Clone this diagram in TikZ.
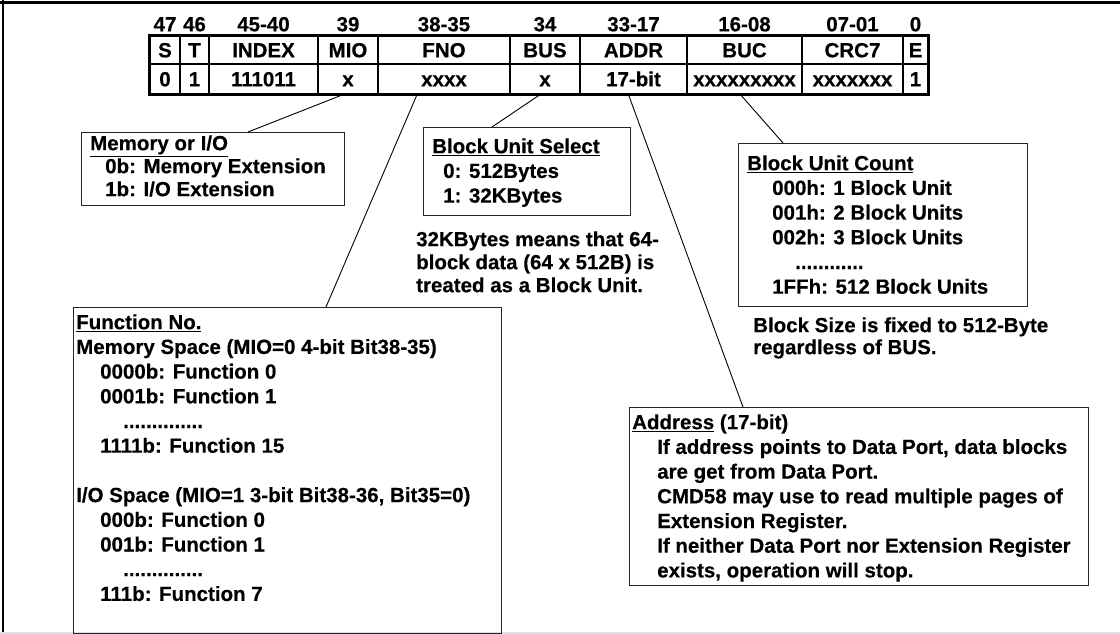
\documentclass[tikz,border=0pt]{standalone}
\usepackage{fontspec}
\setmainfont{Liberation Sans}[BoldFeatures={FakeBold=0.4}]
\usetikzlibrary{calc}
\newcommand\capstrut{\rule{0pt}{15pt}}
\tikzset{
  txt/.style={font=\fontsize{20.5}{24.7}\selectfont\bfseries, inner sep=0pt},
  hdr/.style={txt, text height=14.6pt, text depth=0pt},
  cell/.style={txt, draw, line width=1.3pt, text height=14.6pt, text depth=0pt},
  box/.style={draw=black!85, line width=1.2pt, inner sep=0pt, anchor=north west},
  para/.style={txt, anchor=north west, align=left},
  link/.style={line width=0.9pt},
}
\begin{document}
\begin{tikzpicture}[x=1pt,y=-1pt]
\useasboundingbox (0,0) rectangle (1120,634);
% frame
\draw[line width=3pt] (0,2.5) -- (1120,2.5);
\draw[line width=2pt] (2.5,0) -- (2.5,634);
\draw[black!12, line width=2pt] (0,633) -- (1120,633);
% table
\foreach \nm/\cx/\cw/\hn/\fl/\vl in {
  S/165/30/47/S/0,
  T/194.5/29/46/T/1,
  INDEX/263.5/109/45-40/INDEX/111011,
  MIO/348/60/39/MIO/x,
  FNO/444/132/38-35/FNO/xxxx,
  BUS/545/70/34/BUS/x,
  ADDR/633.5/107/33-17/ADDR/17-bit,
  BUC/744.5/115/16-08/BUC/xxxxxxxxx,
  CRC/852.5/101/07-01/CRC7/xxxxxxx,
  E/915.5/25/0/E/1}{
  \node[hdr] (h\nm) at (\cx,24) {\hn};
  \node[cell, minimum width=\cw pt, minimum height=28pt] (n\nm) at (\cx,50) {\fl};
  \node[cell, minimum width=\cw pt, minimum height=30pt] (v\nm) at (\cx,79) {\vl};
}
\draw[line width=3pt] (nS.north west) rectangle (vE.south east);

% Memory or I/O
\node[box, minimum width=263pt, minimum height=73pt] (mem) at (81,132) {};
\node[para, font=\fontsize{20.5}{23}\selectfont\bfseries] (memt) at (90,135)
  {\capstrut\underline{Memory or I/O}\\
   \hspace*{15pt}0b: Memory Extension\\
   \hspace*{15pt}1b: I/O Extension};

% Block Unit Select
\node[box, minimum width=207pt, minimum height=88pt] (bus) at (423,127) {};
\node[para] (bust) at (432,138)
  {\capstrut\underline{Block Unit Select}\\
   \hspace*{11pt}0: 512Bytes\\
   \hspace*{11pt}1: 32KBytes};
\node[para, font=\fontsize{20.5}{23}\selectfont\bfseries] (note1) at (416,231)
  {\capstrut 32KBytes means that 64-\\
   block data (64 x 512B) is\\
   treated as a Block Unit.};

% Block Unit Count
\node[box, minimum width=289pt, minimum height=163pt] (buc) at (738,143) {};
\node[para] (buct) at (747,155)
  {\capstrut\underline{Block Unit Count}\\
   \hspace*{25pt}000h: 1 Block Unit\\
   \hspace*{25pt}001h: 2 Block Units\\
   \hspace*{25pt}002h: 3 Block Units\\
   \hspace*{48pt}............\\
   \hspace*{25pt}1FFh: 512 Block Units};
\node[para, font=\fontsize{20.5}{22}\selectfont\bfseries] (note2) at (753,317)
  {\capstrut Block Size is fixed to 512-Byte\\
   regardless of BUS.};

% Function No.
\node[box, minimum width=428pt, minimum height=326pt] (fn) at (73,307) {};
\node[para] (fnt) at (76,314)
  {\capstrut\underline{Function No.}\\
   Memory Space (MIO=0 4-bit Bit38-35)\\
   \hspace*{24pt}0000b: Function 0\\
   \hspace*{24pt}0001b: Function 1\\
   \hspace*{47pt}..............\\
   \hspace*{24pt}1111b: Function 15\\[24.7pt]
   I/O Space (MIO=1 3-bit Bit38-36, Bit35=0)\\
   \hspace*{24pt}000b: Function 0\\
   \hspace*{24pt}001b: Function 1\\
   \hspace*{47pt}..............\\
   \hspace*{24pt}111b: Function 7};

% Address
\node[box, minimum width=459pt, minimum height=178pt] (adr) at (629,407) {};
\node[para] (adrt) at (632,414)
  {\capstrut\underline{Address} (17-bit)\\
   \hspace*{25pt}If address points to Data Port, data blocks\\
   \hspace*{25pt}are get from Data Port.\\
   \hspace*{25pt}CMD58 may use to read multiple pages of\\
   \hspace*{25pt}Extension Register.\\
   \hspace*{25pt}If neither Data Port nor Extension Register\\
   \hspace*{25pt}exists, operation will stop.};

% connectors
\draw[link] ([xshift=-5pt]vMIO.south) -- ([xshift=167pt]mem.north west);
\draw[link] ([xshift=-27pt]vFNO.south) -- ([xshift=253pt]fn.north west);
\draw[link] ([xshift=-5pt]vBUS.south) -- ([xshift=69pt]bus.north west);
\draw[link] ([xshift=-5pt]vADDR.south) -- ([xshift=114pt]adr.north west);
\draw[link] ([xshift=-4pt]vBUC.south) -- ([xshift=45pt]buc.north west);
\end{tikzpicture}
\end{document}
